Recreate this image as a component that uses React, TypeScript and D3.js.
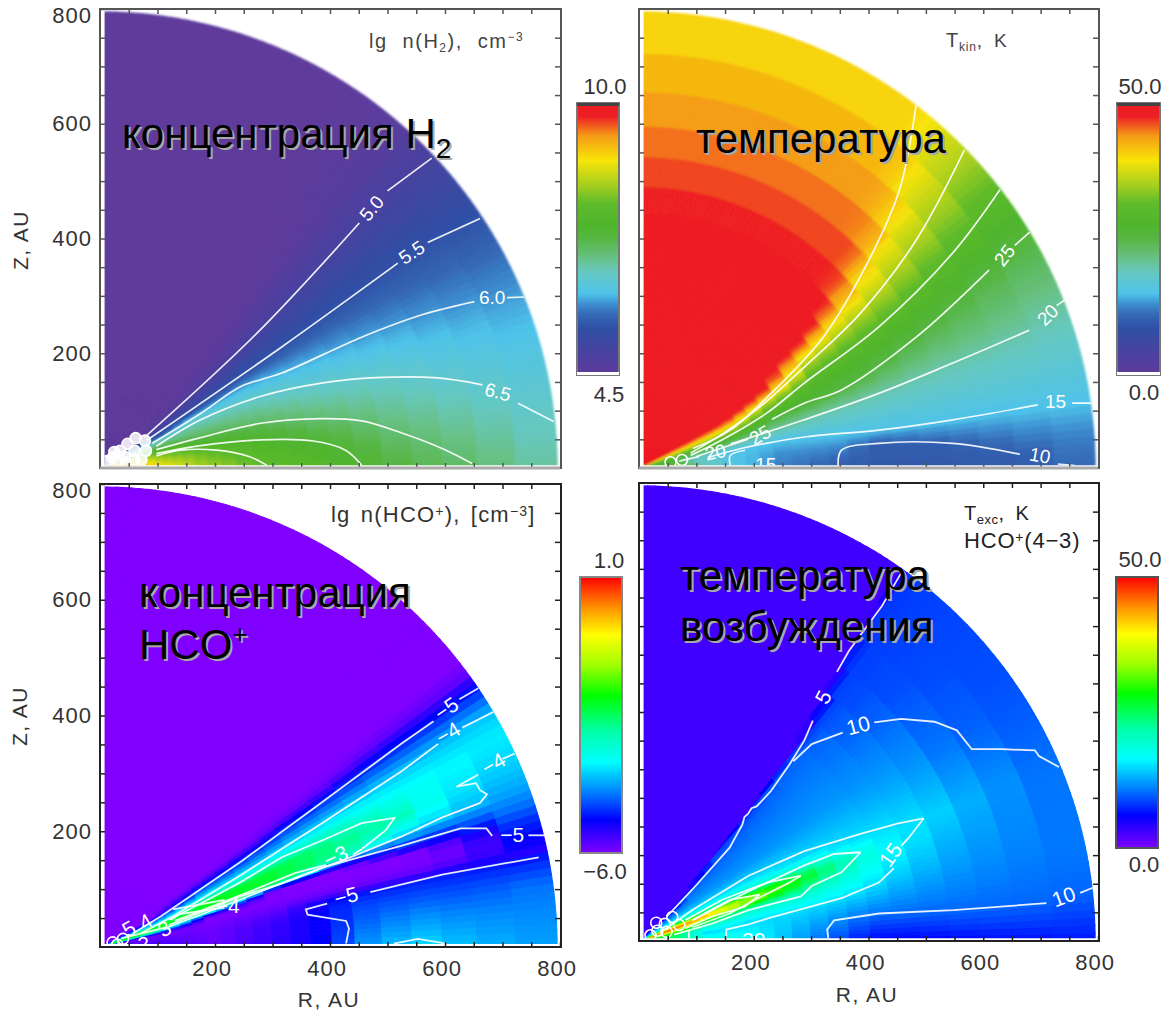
import { useEffect, useRef } from "react";
import * as d3 from "d3";

type Pt = [number, number];

// radial bin edges of the model grid, AU
const rEdges = [10, 15, 18, 22, 26, 31, 37, 44, 52, 62, 72, 84, 98, 112, 128, 146, 166, 188, 212, 238, 268, 300, 333, 367, 404, 444, 491, 543, 596, 656, 723, 795];
const axisTicks = [50, 100, 150, 200, 250, 300, 350, 400, 450, 500, 550, 600, 650, 700, 750];

// colour bars: position along the bar, colour
const softStops = [0, 0.08, 0.17, 0.22, 0.26, 0.3, 0.38, 0.43, 0.5, 0.55, 0.63, 0.7, 0.79, 0.88, 0.95, 1];
const softColors = ["#5f3b9c", "#4a419f", "#2f4fa5", "#3567b5", "#3d8ed0", "#4fc4ea", "#66c8c0", "#68c185", "#55b642", "#4fb52d", "#5ebb2b", "#a7cf1f", "#f8e408", "#f59a17", "#ee1f24", "#ed1c24"];
const rainbowStops = [0, 0.12, 0.22, 0.33, 0.44, 0.57, 0.68, 0.79, 0.89, 1];
const rainbowColors = ["#8000ff", "#0000ff", "#0080ff", "#00ffff", "#00ffa8", "#00ff00", "#a0ff00", "#ffff00", "#ff9000", "#ff0000"];

// lg n(H2): one profile per radius, [angle above midplane in deg, value]
const h2Radii = [50, 110, 180, 280, 380, 510, 650, 795];
const h2Rows: Pt[][] = [
  [[0, 9.9], [10, 9], [18, 8], [24, 7], [28, 6], [34, 5], [38, 4.5], [90, 4.5]],
  [[0, 8.95], [8, 8.4], [14, 8], [18, 7.5], [21, 7], [26, 6.5], [27, 6], [28, 5.5], [34, 5], [38, 4.6], [42, 4.5], [90, 4.5]],
  [[0, 8.4], [9, 8], [14, 7.5], [19.5, 7], [27, 6.5], [29.5, 6], [31, 5.5], [36, 5], [41, 4.6], [46, 4.5], [90, 4.5]],
  [[0, 8.03], [11, 7.5], [17, 7], [25, 6.5], [30, 6], [33, 5.5], [39, 5], [44, 4.6], [49, 4.5], [90, 4.5]],
  [[0, 7.75], [5.6, 7.5], [13, 7], [21.5, 6.5], [28.5, 6], [33.7, 5.5], [41, 5], [47, 4.6], [52, 4.5], [90, 4.5]],
  [[0, 7.3], [7, 7], [18, 6.5], [26.6, 6], [34, 5.5], [43, 5], [49, 4.6], [55, 4.5], [90, 4.5]],
  [[0, 7.02], [12.5, 6.5], [24, 6], [34, 5.5], [43.5, 5], [50, 4.65], [60, 4.5], [90, 4.5]],
  [[0, 6.65], [5.8, 6.5], [22, 6], [33.4, 5.5], [43, 5], [50, 4.6], [60, 4.5], [90, 4.5]],
];

// Tkin, K
const tkinRadii = [60, 100, 170, 250, 345, 420, 535, 660, 796];
const tkinRows: Pt[][] = [
  [[0, 30], [6, 30], [12, 25], [18, 30], [24, 40], [28, 48], [30, 50], [90, 50]],
  [[0, 22], [10, 18], [15, 24], [20, 32], [24, 40], [27, 46], [30, 50], [90, 50]],
  [[0, 16], [11, 15], [14, 20], [17, 25], [20, 30], [22.5, 35], [25, 40], [27, 45], [30, 50], [90, 50]],
  [[0, 12], [6, 13], [11, 15], [15.5, 20], [20, 25], [23.5, 30], [27, 35], [28.5, 40], [30.5, 45], [33.5, 50], [90, 50]],
  [[0, 10.3], [3, 11], [9.5, 15], [16.7, 20], [20.8, 25], [27.5, 30], [31.8, 35], [34.5, 40], [36.5, 45], [39, 50], [90, 50]],
  [[0, 9.5], [5.9, 10], [9, 15], [17.3, 20], [22.2, 25], [29.2, 30], [33.6, 35], [37, 40], [39.5, 45], [42.5, 48.5], [90, 48.5]],
  [[0, 9.5], [4.5, 10], [8.7, 15], [18.5, 20], [25.3, 25], [31, 30], [36, 35], [41.9, 40], [44, 44], [47, 46], [90, 46]],
  [[0, 9.8], [2.1, 10], [8.7, 15], [19, 20], [28, 25], [34.4, 30], [40, 35], [46.9, 40], [49, 42], [52, 43], [90, 43]],
  [[0, 11.5], [4, 12.5], [8.2, 15], [21, 20], [31, 25], [37.6, 30], [44.3, 35], [52.7, 39.5], [90, 39.5]],
];

// lg n(HCO+)
const hcoRadii = [100, 200, 320, 400, 445, 555, 650, 795];
const hcoRows: Pt[][] = [
  [[0, -5.5], [12, -5.9], [14, -5], [15, -3.5], [17, -2.2], [20, -2.1], [22, -3], [23, -4], [26.6, -5], [29, -6], [90, -6]],
  [[0, -5.8], [10, -5.9], [15, -6], [17, -5], [17.4, -4], [18, -3], [19, -2.2], [23, -2.1], [24.5, -3], [26.8, -4], [30.5, -5], [33, -5.8], [35, -6], [90, -6]],
  [[0, -5.4], [8, -5.5], [12, -5.8], [15, -6], [17.5, -6], [18.5, -5], [19, -4], [19.5, -3], [20.5, -2.3], [24, -2.3], [25.5, -3], [28, -4], [32, -5], [34, -5.8], [36, -6], [90, -6]],
  [[0, -5.15], [6, -5.15], [9, -5.1], [11.4, -5.2], [13, -5.8], [15, -6], [17.5, -6], [19, -5], [19.5, -4], [20.2, -3], [21.5, -2.6], [24.5, -2.6], [25.5, -3], [29, -4], [33, -5], [35, -5.8], [37, -6], [90, -6]],
  [[0, -4.4], [6, -4.7], [9, -4.8], [11.4, -5], [13, -5.8], [15, -6], [17.5, -6], [19.3, -5], [19.8, -4], [20.5, -3], [23, -2.7], [25.4, -3], [27, -3.3], [29.2, -4], [33.2, -5], [35, -5.8], [37, -6], [90, -6]],
  [[0, -3.85], [6, -4.4], [11.7, -5], [13, -5.8], [15, -6], [16.5, -6], [18.2, -5], [20, -4], [21.5, -3.5], [23.5, -3], [26, -3.4], [29.9, -4], [33.9, -5], [36, -5.8], [38, -6], [90, -6]],
  [[0, -4.1], [5, -4.4], [11.8, -5], [13, -5.6], [15, -5.9], [16.5, -5.6], [18, -5], [20.7, -4], [23.5, -3.75], [27, -3.65], [30.2, -4], [34, -5], [36.5, -5.8], [38.5, -6], [90, -6]],
  [[0, -4.3], [8, -4.5], [11.4, -5], [12.5, -5.4], [14, -5], [18, -4.5], [24.9, -4], [28, -3.8], [30.7, -4], [34.2, -5], [36.5, -5.8], [38.5, -6], [90, -6]],
];

// Texc, K
const texRadii = [60, 120, 200, 300, 400, 450, 550, 650, 790];
const texRows: Pt[][] = [
  [[0, 28], [8, 25], [14, 30], [20, 48], [24, 35], [28, 20], [34, 13], [40, 9], [41, 3], [90, 3]],
  [[0, 21], [6, 16], [7.5, 15], [13, 20], [15, 25], [18, 30], [20, 42], [22, 42], [23, 30], [24.5, 25], [26, 20], [30, 15], [36, 12], [44, 10], [45, 8.5], [46, 3], [90, 3]],
  [[0, 17], [6, 16], [10, 15], [15.8, 20], [17.5, 25], [18.5, 30], [19.5, 33], [22, 33], [23, 30], [24, 25], [25.5, 20], [29.5, 15], [35, 12], [45, 10], [49, 8.5], [49.5, 3], [90, 3]],
  [[0, 11.2], [6, 13], [11, 15], [16, 20], [19, 25], [21, 28], [23, 25], [24.5, 20], [27.5, 15], [35, 12], [47, 10], [49.5, 8.5], [50, 3], [90, 3]],
  [[0, 6], [6, 10], [12.5, 15], [19, 19], [21.9, 20], [23, 18], [25.5, 15], [36, 12], [49.5, 10], [50.5, 8.5], [51, 3], [90, 3]],
  [[0, 5.5], [6, 10], [15, 15], [20, 17], [25.3, 15], [35, 12], [48.8, 10], [50.5, 8.5], [51, 3], [90, 3]],
  [[0, 6], [5.6, 10], [14, 12.5], [23.3, 15], [32, 12.5], [43, 10], [52, 8.5], [53.5, 3], [90, 3]],
  [[0, 6.5], [5.3, 10], [14, 11.5], [23, 12.5], [33, 10], [45, 8.8], [53.5, 8.3], [54.2, 3], [90, 3]],
  [[0, 7], [6.7, 10], [12, 10.5], [22.5, 10], [35, 9], [50, 8.5], [54, 8], [55, 3], [90, 3]],
];

// contour lines, [R, Z] in AU
const h2Lines: Pt[][] = [
  [[577, 540], [500, 483]], [[451, 427], [273, 235], [78, 54]],
  [[661, 435], [570, 393]], [[518, 357], [316, 211], [81, 48]],
  [[738, 298], [708, 297]], [[651, 290], [560, 267], [455, 228], [315, 165], [245, 142], [175, 95], [91, 43]],
  [[789, 81], [727, 113]], [[665, 145], [588, 157], [490, 158], [385, 148], [280, 125], [175, 84], [98, 38]],
  [[647, 8], [595, 34], [525, 61], [455, 82], [385, 86], [280, 78], [175, 53], [98, 32]],
  [[455, 5], [427, 31], [371, 47], [280, 49], [175, 39], [98, 25]],
  [[290, 5], [259, 20], [203, 31], [140, 31], [98, 21]],
];
const tkinLines: Pt[][] = [
  [[483, 633], [454, 485], [398, 357], [321, 228], [224, 124], [159, 66], [94, 34]],
  [[567, 554], [483, 397], [386, 270], [288, 176], [210, 106], [145, 59], [90, 26]],
  [[629, 485], [547, 375], [418, 246], [288, 148], [223, 96], [150, 52], [90, 22]],
  [[681, 411], [655, 388]], [[610, 345], [483, 228], [353, 136], [288, 113], [232, 85]], [[190, 50], [100, 20]],
  [[742, 293], [728, 283]], [[680, 240], [547, 183], [418, 130], [288, 84], [160, 42]], [[105, 20], [70, 12]],
  [[788, 113], [755, 113]], [[695, 110], [547, 84], [418, 66], [288, 54], [178, 34], [120, 18]],
  [[347, 5], [353, 31], [418, 43], [547, 43], [664, 24]], [[730, 7], [760, 4]],
  [[159, 5], [159, 22], [185, 31]],
];
const hcoLines: Pt[][] = [
  [[658, 447], [625, 428]], [[580, 390], [525, 352], [386, 250], [246, 148], [106, 53], [60, 25]],
  [[684, 406], [630, 379]], [[588, 351], [525, 304], [386, 214], [246, 125], [127, 53], [72, 24]],
  [[721, 334], [700, 325]], [[658, 298], [620, 277], [654, 283], [661, 271], [673, 264], [661, 249], [595, 224], [525, 191], [435, 155], [316, 110], [246, 88], [120, 38]],
  [[773, 193], [745, 193]], [[682, 192], [672, 205], [627, 205], [525, 175], [386, 137], [246, 83], [120, 35], [37, 15]],
  [[440, 160], [455, 169], [497, 202], [512, 223], [455, 214], [386, 184], [316, 155], [246, 113], [190, 83], [120, 47]],
  [[393, 142], [340, 128], [246, 90], [130, 45]],
  [[127, 65], [215, 81], [215, 68], [138, 57], [124, 47]],
  [[763, 155], [595, 125], [470, 95]], [[395, 75], [358, 65], [361, 56], [428, 45], [433, 32], [428, 6]],
  [[511, 6], [553, 14], [602, 6]],
];
const texLines: Pt[][] = [
  [[457, 643], [424, 586], [366, 507], [345, 470]], [[303, 385], [288, 350], [262, 308], [230, 262], [205, 235], [196, 232], [190, 222], [184, 217], [180, 203], [170, 185], [158, 163], [93, 90], [48, 42]],
  [[269, 314], [301, 344], [355, 364]], [[410, 382], [457, 388], [515, 383], [554, 368], [580, 335], [632, 335], [690, 333], [697, 323], [732, 304]],
  [[791, 93], [769, 84]], [[710, 66], [548, 54], [418, 48], [340, 36], [328, 20], [330, 5]],
  [[496, 214], [450, 205], [386, 187], [288, 157], [191, 114], [93, 54], [45, 20]],
  [[496, 214], [470, 180], [457, 166]], [[444, 127], [418, 102], [353, 75], [223, 39], [191, 29], [152, 20], [152, 5]],
  [[386, 155], [340, 152], [288, 132], [191, 87], [93, 36]],
  [[386, 155], [353, 120], [301, 96], [282, 78], [191, 54], [126, 30], [61, 11]],
  [[282, 114], [223, 102], [145, 72], [80, 36]],
  [[282, 114], [262, 102], [204, 73], [158, 48], [93, 24]],
  [[210, 81], [158, 72], [95, 38]],
  [[210, 81], [184, 60], [126, 42], [80, 22]],
  [[87, 18], [87, 5]],
];

// contour labels: text, R, Z, rotation
const h2Labels: [string, number, number, number][] = [["5.0", 472, 453, -50], ["5.5", 542, 376, -33], ["6.0", 682, 297, 0], ["6.5", 692, 133, 15]];
const tkinLabels: [string, number, number, number][] = [["25", 637, 371, -52], ["25", 211, 58, -30], ["20", 712, 267, -45], ["20", 133, 28, -12], ["15", 726, 116, 0], ["10", 699, 22, 10], ["15", 221, 6, 0]];
const hcoLabels: [string, number, number, number][] = [["−5", 602, 412, -35], ["−4", 605, 370, -30], ["−4", 684, 317, -30], ["−3", 410, 157, -25], ["−5", 717, 195, 0], ["−5", 428, 88, -15], ["−4", 222, 72, 0], ["5", 50, 32, -30], ["4", 79, 44, -30], ["3", 112, 32, -30], ["2", 75, 6, 0]];
const texLabels: [string, number, number, number][] = [["5", 321, 426, -62], ["10", 382, 377, -15], ["15", 438, 151, -55], ["10", 740, 78, -20], ["20", 200, 2, 0]];

// label clutter around the origin where the contours bunch up
const h2Blobs: Pt[] = [[12, 12], [22, 18], [35, 30], [48, 42], [62, 52], [78, 48], [80, 30], [60, 30], [42, 20], [30, 10], [60, 15], [45, 10], [25, 28], [72, 14]];
const tkinBlobs: Pt[] = [[55, 10], [75, 14]];
const hcoBlobs: Pt[] = [[22, 8], [40, 14], [30, 4]];
const texBlobs: Pt[] = [[20, 10], [32, 18], [45, 30], [58, 42], [48, 16], [70, 28], [30, 32]];

function makeField(radii: number[], rows: Pt[][]) {
  const rowScales = rows.map(row =>
    d3.scaleLinear().domain(row.map(d => d[0])).range(row.map(d => d[1])).clamp(true));
  return (r: number, deg: number) => {
    const i = Math.min(Math.max(d3.bisectLeft(radii, r), 1), radii.length - 1);
    const mix = d3.scaleLinear().domain([radii[i - 1], radii[i]])
      .range([rowScales[i - 1](deg), rowScales[i](deg)]).clamp(true);
    return mix(r);
  };
}

const panels = [
  {
    id: "h2", xr: [100, 560], yr: [468, 9], radii: h2Radii, rows: h2Rows, lines: h2Lines, labels: h2Labels, blobs: h2Blobs,
    stops: softStops, colors: softColors, vmin: 4.5, vmax: 10, xLabels: false, yLabels: true, frame: "#555", lw: 1.7, labelSize: 19, blur: 0.9, curved: true,
    bar: [577, 103, 42, 272], barColor: "#777", barCap: true, top: ["10.0", 605, 94], bottom: ["4.5", 609, 402],
  },
  {
    id: "tkin", xr: [639, 1098], yr: [468, 9], radii: tkinRadii, rows: tkinRows, lines: tkinLines, labels: tkinLabels, blobs: tkinBlobs,
    stops: softStops, colors: softColors, vmin: 0, vmax: 50, xLabels: false, yLabels: false, frame: "#555", lw: 1.7, labelSize: 19, blur: 0.9, curved: true,
    bar: [1117, 103, 43, 272], barColor: "#777", barCap: true, top: ["50.0", 1140, 94], bottom: ["0.0", 1144, 400],
  },
  {
    id: "hco", xr: [100, 560], yr: [947, 484], radii: hcoRadii, rows: hcoRows, lines: hcoLines, labels: hcoLabels, blobs: hcoBlobs,
    stops: rainbowStops, colors: rainbowColors, vmin: -6, vmax: 1, xLabels: true, yLabels: true, frame: "#222", lw: 1.8, labelSize: 21, blur: 0.6, curved: false,
    bar: [580, 577, 42, 276], barColor: "#888", barCap: false, top: ["1.0", 609, 568], bottom: ["−6.0", 605, 879],
  },
  {
    id: "tex", xr: [639, 1098], yr: [941, 483], radii: texRadii, rows: texRows, lines: texLines, labels: texLabels, blobs: texBlobs,
    stops: rainbowStops, colors: rainbowColors, vmin: 0, vmax: 50, xLabels: true, yLabels: false, frame: "#222", lw: 1.8, labelSize: 21, blur: 0.6, curved: false,
    bar: [1116, 577, 42, 271], barColor: "#555", barCap: false, top: ["50.0", 1140, 567], bottom: ["0.0", 1144, 872],
  },
];

// text parts: string, vertical shift, size
const notes: { x: number; y: number; spacing: number; words: number; fill: string; parts: [string, number, number][] }[] = [
  { x: 369, y: 48, spacing: 1.5, words: 8, fill: "#444", parts: [["lg n(H", 0, 20], ["2", 4, 12], ["), cm", 0, 20], ["−3", -7, 12]] },
  { x: 946, y: 47, spacing: 0.8, words: 5, fill: "#444", parts: [["T", 0, 20], ["kin", 4, 12], [", K", 0, 19]] },
  { x: 331, y: 522, spacing: 1.2, words: 3, fill: "#333", parts: [["lg n(HCO", 0, 22], ["+", -6, 14], ["), [cm", 0, 22], ["−3", -6, 14], ["]", 0, 22]] },
  { x: 964, y: 520, spacing: 0.5, words: 5, fill: "#222", parts: [["T", 0, 20], ["exc", 4, 13], [", K", 0, 20]] },
  { x: 964, y: 548, spacing: 0.8, words: 0, fill: "#222", parts: [["HCO", 0, 22], ["+", -6, 14], ["(4−3)", 0, 22]] },
];

const captions: { x: number; y: number; parts: [string, number, number][] }[] = [
  { x: 122, y: 148, parts: [["концентрация H", 0, 42], ["2", 10, 28]] },
  { x: 696, y: 153, parts: [["температура", 0, 42]] },
  { x: 139, y: 607, parts: [["концентрация", 0, 42]] },
  { x: 139, y: 659, parts: [["HCO", 0, 42], ["+", -16, 26]] },
  { x: 680, y: 590, parts: [["температура", 0, 42]] },
  { x: 680, y: 641, parts: [["возбуждения", 0, 42]] },
];

function addParts(sel: any, parts: [string, number, number][]) {
  let shift = 0;
  parts.forEach(([t, s, size]) => {
    sel.append("tspan").attr("dy", s - shift).attr("font-size", size).text(t);
    shift = s;
  });
}

export default function App() {
  const ref = useRef<SVGSVGElement>(null);

  useEffect(() => {
    const svg = d3.select(ref.current!);
    svg.selectAll("*").remove();
    const defs = svg.append("defs");

    panels.forEach(p => {
      const x = d3.scaleLinear().domain([0, 800]).range(p.xr);
      const y = d3.scaleLinear().domain([0, 800]).range(p.yr);
      const field = makeField(p.radii, p.rows);
      const color = d3.scaleLinear<string>()
        .domain(p.stops.map(s => p.vmin + s * (p.vmax - p.vmin)))
        .range(p.colors).clamp(true);

      defs.append("clipPath").attr("id", `clip-${p.id}`).append("rect")
        .attr("x", x(8)).attr("y", p.yr[1]).attr("width", x(800) - x(8)).attr("height", y(5) - p.yr[1]);
      defs.append("filter").attr("id", `soft-${p.id}`).attr("x", "-5%").attr("y", "-5%").attr("width", "110%").attr("height", "110%")
        .append("feGaussianBlur").attr("stdDeviation", p.blur);

      const g = svg.append("g");
      const clipped = g.append("g").attr("clip-path", `url(#clip-${p.id})`);
      const cells = clipped.append("g").attr("filter", `url(#soft-${p.id})`);

      const cellData: { r0: number; r1: number; a: number }[] = [];
      d3.pairs(rEdges).forEach(([r0, r1]) => {
        d3.range(0, 90).forEach(a => cellData.push({ r0, r1, a }));
      });
      const rad = (deg: number) => (deg * Math.PI) / 180;
      const poly = d3.line<Pt>().x(d => x(d[0])).y(d => y(d[1]));
      cells.selectAll("path").data(cellData).join("path")
        .attr("d", d => {
          const a0 = rad(d.a), a1 = rad(d.a + 1);
          return poly([
            [d.r0 * Math.cos(a0), d.r0 * Math.sin(a0)],
            [d.r1 * Math.cos(a0), d.r1 * Math.sin(a0)],
            [d.r1 * Math.cos(a1), d.r1 * Math.sin(a1)],
            [d.r0 * Math.cos(a1), d.r0 * Math.sin(a1)],
          ]) + "Z";
        })
        .attr("fill", d => color(field((d.r0 + d.r1) / 2, d.a + 0.5)))
        .attr("stroke", d => color(field((d.r0 + d.r1) / 2, d.a + 0.5)))
        .attr("stroke-width", 1.1);

      // contours
      const contour = d3.line<Pt>().x(d => x(d[0])).y(d => y(d[1]));
      if (p.curved) contour.curve(d3.curveCatmullRom.alpha(0.5));
      clipped.append("g").selectAll("path").data(p.lines).join("path")
        .attr("d", d => contour(d))
        .attr("fill", "none").attr("stroke", "#fff").attr("stroke-width", p.lw).attr("stroke-opacity", 0.9);

      clipped.append("g").selectAll("circle").data(p.blobs).join("circle")
        .attr("cx", d => x(d[0])).attr("cy", d => y(d[1])).attr("r", 5.5)
        .attr("fill", p.id === "h2" ? "#fff" : "none").attr("fill-opacity", 0.85)
        .attr("stroke", "#fff").attr("stroke-width", 1.6);

      clipped.append("g").selectAll("text").data(p.labels).join("text")
        .attr("transform", d => `translate(${x(d[1])},${y(d[2])}) rotate(${d[3]})`)
        .attr("text-anchor", "middle").attr("dy", "0.36em")
        .attr("font-family", "Liberation Sans, sans-serif").attr("font-size", p.labelSize)
        .attr("fill", "#fff").text(d => d[0]);

      // frame and ticks
      const fmt = (on: boolean) => (d: d3.NumberValue) => (on && +d % 200 === 0 ? String(d) : "");
      const tick = (ax: d3.Axis<d3.NumberValue>, on: boolean) =>
        ax.tickValues(axisTicks).tickSizeInner(-5).tickSizeOuter(0).tickPadding(on ? 8 : 0).tickFormat(fmt(on));
      const yTicks = p.yLabels ? [...axisTicks, 800] : axisTicks;
      const xTicks = p.xLabels ? [...axisTicks, 800] : axisTicks;

      const bottom = g.append("g").attr("transform", `translate(0,${p.yr[0]})`)
        .call(tick(d3.axisBottom(x), p.xLabels).tickValues(xTicks));
      const left = g.append("g").attr("transform", `translate(${p.xr[0]},0)`)
        .call(tick(d3.axisLeft(y), p.yLabels).tickValues(yTicks));
      const topAx = g.append("g").attr("transform", `translate(0,${p.yr[1]})`).call(tick(d3.axisTop(x), false));
      const rightAx = g.append("g").attr("transform", `translate(${p.xr[1]},0)`).call(tick(d3.axisRight(y), false));
      [bottom, left, topAx, rightAx].forEach(ax => {
        ax.selectAll("path").remove();
        ax.selectAll("line").attr("stroke", p.frame).attr("stroke-width", 1.5);
        ax.selectAll("text").attr("font-family", "Liberation Sans, sans-serif").attr("font-size", 22).attr("letter-spacing", 1).attr("fill", "#333");
      });
      // the top label sits a little below its tick, as in the picture
      left.selectAll<SVGTextElement, number>("text").filter(d => d === 800).attr("dy", "0.62em");
      if (p.xLabels) bottom.selectAll("text").attr("dy", "0.95em").attr("text-anchor", "end").attr("dx", "0.75em");
      g.append("rect")
        .attr("x", p.xr[0]).attr("y", p.yr[1]).attr("width", x(800) - p.xr[0] + 1).attr("height", p.yr[0] - p.yr[1])
        .attr("fill", "none").attr("stroke", p.frame).attr("stroke-width", 2);
      if (!p.xLabels) {
        g.append("line").attr("x1", p.xr[0]).attr("x2", x(800)).attr("y1", p.yr[0]).attr("y2", p.yr[0])
          .attr("stroke", "#aaa").attr("stroke-width", 3);
      }

      // colour bar
      const [bx, by, bw, bh] = p.bar;
      const grad = defs.append("linearGradient").attr("id", `bar-${p.id}`).attr("x1", 0).attr("x2", 0).attr("y1", 1).attr("y2", 0);
      p.stops.forEach((s, i) => grad.append("stop").attr("offset", s).attr("stop-color", p.colors[i]));
      g.append("rect").attr("x", bx).attr("y", by).attr("width", bw).attr("height", bh)
        .attr("fill", `url(#bar-${p.id})`).attr("stroke", p.barColor).attr("stroke-width", 2);
      if (p.barCap) {
        g.append("rect").attr("x", bx).attr("y", by).attr("width", bw).attr("height", 3).attr("fill", "#444");
        g.append("rect").attr("x", bx).attr("y", by + bh - 3).attr("width", bw).attr("height", 3).attr("fill", "#fff");
      }
      [p.top, p.bottom].forEach(t => {
        g.append("text").attr("x", t[1] as number).attr("y", t[2] as number).attr("text-anchor", "middle")
          .attr("font-family", "Liberation Sans, sans-serif").attr("font-size", 22).attr("fill", "#333").text(t[0] as string);
      });
    });

    // small notes in the corners
    notes.forEach(n => {
      const t = svg.append("text").attr("x", n.x).attr("y", n.y)
        .attr("font-family", "Liberation Sans, sans-serif").attr("fill", n.fill)
        .attr("letter-spacing", n.spacing).attr("word-spacing", n.words);
      addParts(t, n.parts);
    });

    // axis titles
    const titles: [string, number, number, number][] = [
      ["Z, AU", 28, 240, -90], ["Z, AU", 27, 716, -90], ["R, AU", 329, 1007, 0], ["R, AU", 867, 1002, 0],
    ];
    titles.forEach(([s, tx, ty, rot]) => {
      svg.append("text").attr("transform", `translate(${tx},${ty}) rotate(${rot})`)
        .attr("text-anchor", "middle").attr("font-family", "Liberation Sans, sans-serif")
        .attr("font-size", 21).attr("letter-spacing", 1.5).attr("fill", "#333").text(s);
    });

    // Russian captions with the drop shadow
    captions.forEach(c => {
      [["#a9a9a9", 2], ["#000", 0]].forEach(([fill, off]) => {
        const t = svg.append("text").attr("x", c.x + (off as number)).attr("y", c.y + (off as number))
          .attr("font-family", "Liberation Sans, sans-serif").attr("fill", fill as string);
        addParts(t, c.parts);
      });
    });
  }, []);

  return <svg ref={ref} width={1165} height={1013} style={{ position: "absolute", left: 0, top: 0, background: "#fff" }} />;
}
